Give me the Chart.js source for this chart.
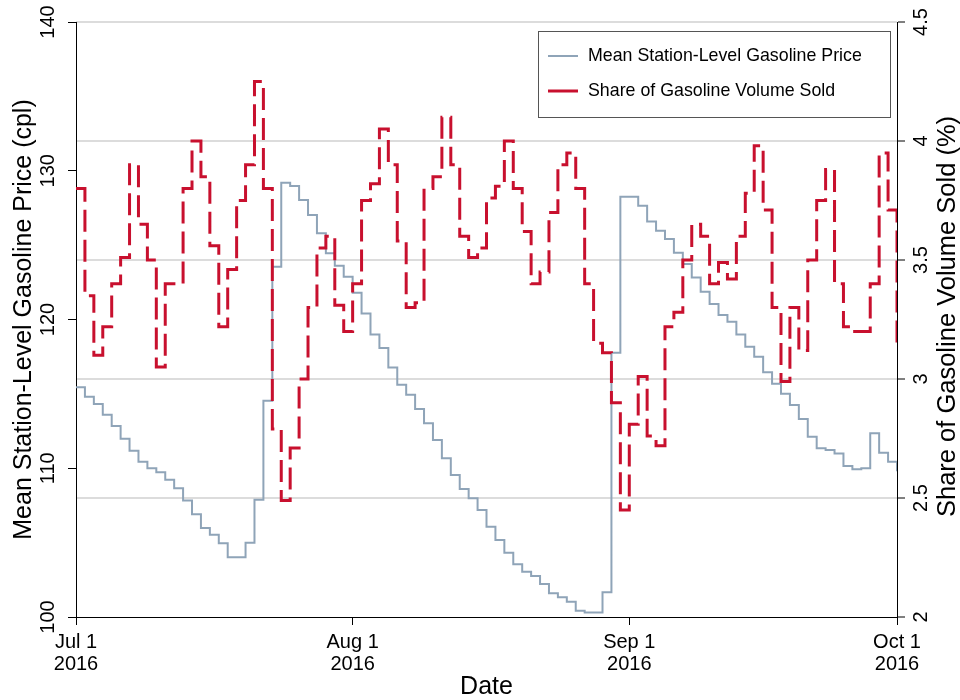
<!DOCTYPE html>
<html>
<head>
<meta charset="utf-8">
<script src="https://cdn.jsdelivr.net/npm/chart.js@4/dist/chart.umd.min.js"></script>
<style>
  html, body { margin: 0; padding: 0; background: #fff; }
  #wrap { width: 960px; height: 700px; position: relative; }
</style>
</head>
<body>
<div id="wrap"><canvas id="c" width="960" height="700"></canvas></div>
<script>
// ---- Data (one value per day, Jul 1 2016 .. Oct 1 2016) ----
const startDate = "2016-07-01";
const priceCpl = [
  115.44,114.81,114.32,113.60,112.84,111.99,111.18,110.44,110.00,109.73,
  109.23,108.65,107.84,106.90,105.98,105.53,104.95,104.01,104.01,104.99,
  107.89,114.54,123.55,129.20,128.97,128.03,127.03,125.79,124.45,123.62,
  122.88,121.80,120.41,119.00,118.08,116.78,115.62,114.94,113.99,113.02,
  111.90,110.67,109.55,108.61,107.98,107.19,106.07,105.18,104.32,103.54,
  103.05,102.76,102.22,101.59,101.32,101.03,100.42,100.31,100.31,101.66,
  117.77,128.26,128.26,127.65,126.58,125.97,125.41,124.49,123.73,122.83,
  121.87,121.04,120.30,119.85,119.00,118.17,117.50,116.45,115.68,115.01,
  114.25,113.31,112.12,111.34,111.23,111.00,110.15,109.93,110.00,112.35,
  111.05,110.44,109.80
];
const volumeSharePct = [
  3.80,3.35,3.10,3.22,3.40,3.51,3.90,3.65,3.50,3.05,
  3.40,3.40,3.80,4.00,3.85,3.56,3.22,3.46,3.75,3.90,
  4.25,3.80,2.79,2.49,2.71,3.00,3.30,3.55,3.60,3.31,
  3.20,3.40,3.75,3.82,4.05,3.90,3.58,3.30,3.32,3.80,
  3.85,4.10,3.90,3.60,3.51,3.55,3.76,3.81,4.00,3.80,
  3.62,3.40,3.45,3.70,3.90,3.95,3.80,3.40,3.15,3.11,
  2.90,2.45,2.81,3.01,2.76,2.72,3.22,3.28,3.50,3.65,
  3.60,3.40,3.49,3.42,3.60,3.78,3.98,3.71,3.30,2.99,
  3.30,3.12,3.50,3.75,3.88,3.40,3.22,3.20,3.20,3.40,
  3.95,3.71,3.14
];
const xTickDays = [0, 31, 62, 92];
const xTickLabels = [["Jul 1","2016"],["Aug 1","2016"],["Sep 1","2016"],["Oct 1","2016"]];
const leftTicks = [100, 110, 120, 130, 140];
const rightTicks = [2, 2.5, 3, 3.5, 4, 4.5];
const rightTickLabels = ["2","2.5","3","3.5","4","4.5"];
const seriesNames = ["Mean Station-Level Gasoline Price", "Share of Gasoline Volume Sold"];
const axisTitles = { x: "Date", left: "Mean Station-Level Gasoline Price (cpl)", right: "Share of Gasoline Volume Sold (%)" };

// day offsets from start date (category positions)
const dayIndex = priceCpl.map((_, i) => i);

const FONT = '"Liberation Sans", Arial, Helvetica, sans-serif';
const GRAY = '#8fa4b8';
const RED = '#c8102e';

const customText = {
  id: 'customText',
  afterDraw(chart) {
    const ctx = chart.ctx;
    const yL = chart.scales.y, yR = chart.scales.y2;
    const area = chart.chartArea;
    ctx.save();
    ctx.fillStyle = '#000';
    ctx.textAlign = 'center';
    ctx.textBaseline = 'alphabetic';
    ctx.font = '20px ' + FONT;
    leftTicks.forEach(v => {
      const py = yL.getPixelForValue(v);
      ctx.save(); ctx.translate(54, py); ctx.rotate(-Math.PI / 2);
      ctx.fillText(String(v), 0, 0); ctx.restore();
    });
    rightTicks.forEach((v, i) => {
      const py = yR.getPixelForValue(v);
      ctx.save(); ctx.translate(927, py); ctx.rotate(-Math.PI / 2);
      ctx.fillText(rightTickLabels[i], 0, 0); ctx.restore();
    });
    const cy = (area.top + area.bottom) / 2;
    ctx.font = '25px ' + FONT;
    ctx.save(); ctx.translate(31, cy); ctx.rotate(-Math.PI / 2);
    ctx.fillText(axisTitles.left, 0, 0); ctx.restore();
    ctx.font = '25.5px ' + FONT;
    ctx.save(); ctx.translate(955, cy - 3); ctx.rotate(-Math.PI / 2);
    ctx.fillText(axisTitles.right, 0, 0); ctx.restore();

    // legend box
    const lx = 538, ly = 31, lw = 352, lh = 86;
    ctx.fillStyle = '#fff';
    ctx.fillRect(lx, ly, lw, lh);
    ctx.strokeStyle = '#555';
    ctx.lineWidth = 1;
    ctx.strokeRect(lx + 0.5, ly + 0.5, lw, lh);
    ctx.lineCap = 'butt';
    ctx.strokeStyle = GRAY; ctx.lineWidth = 2;
    ctx.beginPath(); ctx.moveTo(548, 56); ctx.lineTo(578, 56); ctx.stroke();
    ctx.strokeStyle = RED; ctx.lineWidth = 3;
    ctx.beginPath(); ctx.moveTo(548, 91); ctx.lineTo(578, 91); ctx.stroke();
    ctx.fillStyle = '#000';
    ctx.font = '17.8px ' + FONT;
    ctx.textAlign = 'left';
    ctx.textBaseline = 'middle';
    ctx.fillText(seriesNames[0], 588, 56);
    ctx.fillText(seriesNames[1], 588, 91);
    ctx.restore();
  }
};

new Chart(document.getElementById('c'), {
  type: 'line',
  data: {
    datasets: [
      {
        label: seriesNames[1],
        data: dayIndex.map((d, i) => ({ x: d, y: volumeSharePct[i] })),
        yAxisID: 'y2',
        borderColor: RED,
        borderWidth: 3,
        borderDash: [22, 8],
        stepped: true,
        pointRadius: 0,
        fill: false,
        order: 0
      },
      {
        label: seriesNames[0],
        data: dayIndex.map((d, i) => ({ x: d, y: priceCpl[i] })),
        yAxisID: 'y',
        borderColor: GRAY,
        borderWidth: 2,
        stepped: true,
        pointRadius: 0,
        fill: false,
        order: 1
      }
    ]
  },
  options: {
    responsive: false,
    animation: false,
    devicePixelRatio: 1,
    layout: { padding: { top: 22, left: 0, right: 0, bottom: 0 } },
    plugins: { legend: { display: false }, tooltip: { enabled: false } },
    scales: {
      x: {
        type: 'linear',
        min: 0, max: 92,
        afterBuildTicks: s => { s.ticks = xTickDays.map(v => ({ value: v })); },
        afterFit: s => { s.height = 83; },
        grid: { drawOnChartArea: false, drawTicks: true, tickLength: 8, tickColor: '#000', tickWidth: 1 },
        border: { display: true, color: '#000', width: 1 },
        ticks: {
          autoSkip: false, maxRotation: 0, minRotation: 0,
          color: '#000', padding: 6,
          font: { family: FONT, size: 20, lineHeight: 1.1 },
          callback: (v) => { const k = xTickDays.indexOf(v); return k >= 0 ? xTickLabels[k] : ''; }
        },
        title: { display: true, text: axisTitles.x, color: '#000', font: { family: FONT, size: 25, lineHeight: 1 }, padding: { top: 0, bottom: 0 } }
      },
      y: {
        position: 'left',
        min: 100, max: 140,
        afterBuildTicks: s => { s.ticks = leftTicks.map(v => ({ value: v })); },
        afterFit: s => { s.width = 76; },
        grid: { drawOnChartArea: false, drawTicks: true, tickLength: 8, tickColor: '#000', tickWidth: 1 },
        border: { display: true, color: '#000', width: 1 },
        ticks: { display: false }
      },
      y2: {
        position: 'right',
        min: 2, max: 4.5,
        afterBuildTicks: s => { s.ticks = rightTicks.map(v => ({ value: v })); },
        afterFit: s => { s.width = 63; },
        grid: {
          drawOnChartArea: true,
          color: ctx => (ctx.tick && ctx.tick.value === 2) ? 'rgba(0,0,0,0)' : '#dcdcdc',
          lineWidth: 2,
          drawTicks: true, tickLength: 8, tickColor: '#000', tickWidth: 1
        },
        border: { display: true, color: '#000', width: 1 },
        ticks: { display: false }
      }
    }
  },
  plugins: [customText]
});
</script>
</body>
</html>
